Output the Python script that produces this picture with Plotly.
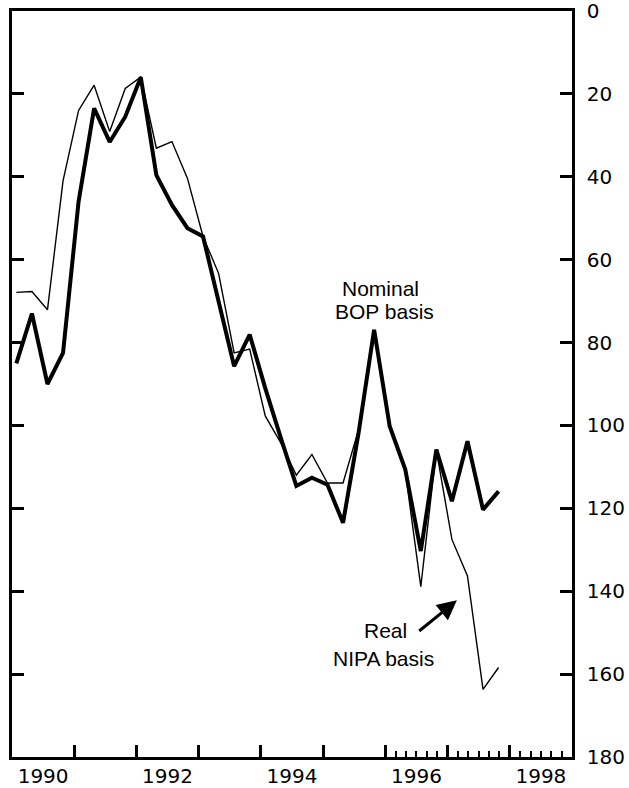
import plotly.graph_objects as go

# Quarterly observations, 1990Q1 .. 1997Q4 (billions, deficit plotted downward)
years = [1990, 1991, 1992, 1993, 1994, 1995, 1996, 1997]
quarters = [1, 2, 3, 4]
nominal_bop = [85, 73, 90, 82.5, 46, 23.5, 31.6, 25.5,
               16, 39.6, 46.8, 52.4, 54.4, 70, 85.7, 78.1,
               91, 103, 114.6, 112.6, 114.3, 123.5, 101.8, 76.9,
               100.2, 110.6, 130.3, 105.8, 118.3, 103.8, 120.3, 115.9]
real_nipa = [67.9, 67.7, 72.1, 41, 24, 17.9, 29.1, 18.7,
             15.9, 33.1, 31.5, 40.4, 54.4, 63.3, 82.5, 81.6,
             97.7, 104.2, 112, 107, 113.9, 113.9, 101, 77,
             100.5, 111, 138.9, 106, 127.5, 136.3, 163.7, 158.4]
year_labels = ["1990", "1992", "1994", "1996", "1998"]
y_ticks = [0, 20, 40, 60, 80, 100, 120, 140, 160, 180]

# quarter positions on a continuous year axis
x_q = [y + (q - 1) / 4 + 0.07 for y in years for q in quarters]

fig = go.Figure()
fig.add_trace(go.Scatter(x=x_q, y=real_nipa, mode="lines",
                         line=dict(color="black", width=1.4), hoverinfo="skip"))
fig.add_trace(go.Scatter(x=x_q, y=nominal_bop, mode="lines",
                         line=dict(color="black", width=4), hoverinfo="skip"))
# dummy trace so the label axis is drawn
fig.add_trace(go.Scatter(x=[None], y=[None], xaxis="x2", hoverinfo="skip"))

year_ticks = list(range(1991, 1999))
minor_ticks = [1996 + i / 6 for i in range(1, 18) if i % 6 != 0]
label_pos = [int(s) + 0.5 for s in year_labels]

tick_font = dict(family="DejaVu Sans", size=20, color="black")
ann_font = dict(family="Liberation Sans", size=21, color="black")

fig.update_layout(
    width=629, height=788,
    margin=dict(l=12, r=57, t=11, b=31, autoexpand=False),
    plot_bgcolor="white", paper_bgcolor="white",
    showlegend=False,
    xaxis=dict(range=[1990, 1999], tickmode="array", tickvals=year_ticks,
               ticks="inside", ticklen=12, tickwidth=2.5, tickcolor="black",
               showticklabels=False, showline=True, linewidth=2.5,
               linecolor="black", mirror=True, showgrid=False, zeroline=False,
               automargin=False,
               minor=dict(tickmode="array", tickvals=minor_ticks, ticks="inside",
                          ticklen=6, tickwidth=2, tickcolor="black", showgrid=False)),
    xaxis2=dict(range=[1990, 1999], overlaying="x", anchor="y", side="bottom",
                tickmode="array", tickvals=label_pos, ticktext=year_labels,
                ticks="", showline=False, showgrid=False, zeroline=False,
                tickfont=tick_font, ticklabelstandoff=5, automargin=False,
                ticklabeloverflow="allow"),
    yaxis=dict(range=[180, 0], side="right", tickmode="array", tickvals=y_ticks,
               ticks="inside", ticklen=12, tickwidth=2.5, tickcolor="black",
               showline=True, linewidth=2.5, linecolor="black", mirror="ticks",
               showgrid=False, zeroline=False, tickfont=tick_font,
               ticklabelstandoff=8, automargin=False, ticklabeloverflow="allow"),
)

notes = [("Nominal", 1995.92, 67), ("BOP basis", 1995.98, 72.4),
         ("Real", 1996.01, 149.5), ("NIPA basis", 1995.97, 156.3)]
for txt, xx, yy in notes:
    fig.add_annotation(x=xx, y=yy, xref="x", yref="y", text=txt,
                       showarrow=False, font=ann_font, xanchor="center",
                       yanchor="middle")

fig.add_annotation(x=1997.15, y=142.2, ax=1996.52, ay=149.9,
                   xref="x", yref="y", axref="x", ayref="y", text="",
                   showarrow=True, arrowhead=2, arrowsize=1.3, arrowwidth=3,
                   arrowcolor="black")

fig.write_html("out.html", config={"displayModeBar": False},
               post_script="document.body.style.margin='0';"
                           "document.body.style.padding='0';")
